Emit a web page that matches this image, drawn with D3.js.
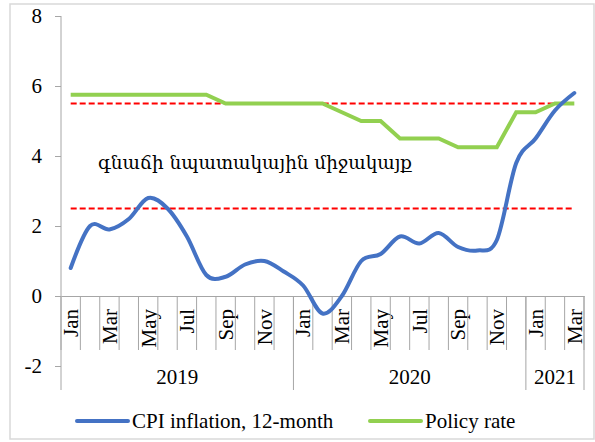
<!DOCTYPE html>
<html>
<head>
<meta charset="utf-8">
<script src="https://cdn.jsdelivr.net/npm/d3@7"></script>
<style>
  body { margin: 0; background: #fff; }
  svg { display: block; }
  text { font-family: "Liberation Serif", serif; fill: #000; }
</style>
</head>
<body>
<svg id="chart" width="595" height="442"></svg>
<script>
// chart data
var months = ["Jan", "Feb", "Mar", "Apr", "May", "Jun", "Jul", "Aug", "Sep", "Oct", "Nov", "Dec"];
var years = ["2019", "2020", "2021"];
var yearCounts = [12, 12, 3];
var cpi = [0.8, 2.0, 1.9, 2.2, 2.8, 2.5, 1.7, 0.6, 0.55, 0.9, 1.0, 0.7,
           0.3, -0.5, 0.0, 1.0, 1.2, 1.7, 1.5, 1.8, 1.4, 1.3, 1.6, 3.8,
           4.5, 5.3, 5.8];
var policy = [5.75, 5.75, 5.75, 5.75, 5.75, 5.75, 5.75, 5.75, 5.5, 5.5, 5.5, 5.5,
              5.5, 5.5, 5.25, 5.0, 5.0, 4.5, 4.5, 4.5, 4.25, 4.25, 4.25, 5.25,
              5.25, 5.5, 5.5];
var targetBand = [2.5, 5.5];
var yTicks = [-2, 0, 2, 4, 6, 8];
var seriesNames = ["CPI inflation, 12-month", "Policy rate"];
var bandLabel = "գնաճի նպատակային միջակայք";

var svg = d3.select("#chart");

// build category list (month + year)
var categories = [];
years.forEach(function(yr, i) {
  for (var k = 0; k < yearCounts[i]; k++) categories.push(months[k] + " " + yr);
});

var plotLeft = 61, plotRight = 584, plotTop = 16, plotBottom = 366;

var x = d3.scaleBand()
  .domain(categories)
  .range([plotLeft, plotRight]);

var y = d3.scaleLinear()
  .domain([-2, 8])
  .range([plotBottom, plotTop]);

var bw = x.bandwidth();
var cx = function(i) { return x(categories[i]) + bw / 2; };
var axisColor = "#a6a6a6";

// outer frame
svg.append("rect")
  .attr("x", 10).attr("y", 4)
  .attr("width", 584).attr("height", 435)
  .attr("fill", "none")
  .attr("stroke", "#d9d9d9")
  .attr("stroke-width", 1.5);

// y axis
var yAxis = d3.axisLeft(y)
  .tickValues(yTicks)
  .tickFormat(String)
  .tickSize(6)
  .tickSizeOuter(0)
  .tickPadding(13);

var gy = svg.append("g")
  .attr("class", "y axis")
  .attr("transform", "translate(" + plotLeft + ",0)")
  .call(yAxis);
gy.select(".domain").remove();
gy.selectAll("line").attr("stroke", axisColor);
gy.selectAll("text")
  .style("font-size", "21px")
  .style("font-family", "Liberation Serif");

svg.append("line")
  .attr("x1", plotLeft).attr("x2", plotLeft)
  .attr("y1", plotTop).attr("y2", 390)
  .attr("stroke", axisColor);

// x axis (month labels, every other one)
var xAxis = d3.axisBottom(x)
  .tickSize(0)
  .tickFormat(function(d, i) { return i % 2 === 0 ? d.split(" ")[0] : ""; });

var gx = svg.append("g")
  .attr("class", "x axis")
  .attr("transform", "translate(0," + y(0) + ")")
  .call(xAxis);
gx.select(".domain").attr("stroke", axisColor);
gx.selectAll("text")
  .attr("transform", "rotate(-90)")
  .attr("x", -13)
  .attr("y", 0)
  .attr("dy", "0.35em")
  .attr("text-anchor", "end")
  .style("font-size", "21px")
  .style("font-family", "Liberation Serif");

// band boundary ticks
var bounds = categories.map(function(c) { return x(c); }).concat([plotRight]);
svg.append("g").selectAll("line")
  .data(bounds)
  .enter()
  .append("line")
  .attr("x1", function(d) { return d; })
  .attr("x2", function(d) { return d; })
  .attr("y1", y(0))
  .attr("y2", 350)
  .attr("stroke", axisColor);

// year groups
var start = 0;
var groups = years.map(function(yr, i) {
  var g = { year: yr, x0: x(categories[start]), x1: x(categories[start + yearCounts[i] - 1]) + bw };
  start += yearCounts[i];
  return g;
});

svg.append("g").selectAll("line")
  .data(groups)
  .enter()
  .append("line")
  .attr("x1", function(d) { return d.x1; })
  .attr("x2", function(d) { return d.x1; })
  .attr("y1", y(0))
  .attr("y2", 390)
  .attr("stroke", axisColor);

svg.append("g").selectAll("text")
  .data(groups)
  .enter()
  .append("text")
  .attr("x", function(d) { return (d.x0 + d.x1) / 2; })
  .attr("y", 384)
  .attr("text-anchor", "middle")
  .style("font-size", "21px")
  .text(function(d) { return d.year; });

// target band lines
svg.append("g").selectAll("line")
  .data(targetBand)
  .enter()
  .append("line")
  .attr("x1", cx(0))
  .attr("x2", cx(categories.length - 1))
  .attr("y1", function(d) { return y(d); })
  .attr("y2", function(d) { return y(d); })
  .attr("stroke", "#ff0000")
  .attr("stroke-width", 2)
  .attr("stroke-dasharray", "6,3");

svg.append("text")
  .attr("x", 98)
  .attr("y", 169)
  .style("font-family", "DejaVu Serif")
  .style("font-size", "18.4px")
  .text(bandLabel);

// series lines
var policyLine = d3.line()
  .x(function(d, i) { return cx(i); })
  .y(function(d) { return y(d); });

var cpiLine = d3.line()
  .x(function(d, i) { return cx(i); })
  .y(function(d) { return y(d); })
  .curve(d3.curveCatmullRom.alpha(0));

svg.append("path")
  .datum(policy)
  .attr("fill", "none")
  .attr("stroke", "#92d050")
  .attr("stroke-width", 4)
  .attr("d", policyLine);

svg.append("path")
  .datum(cpi)
  .attr("fill", "none")
  .attr("stroke", "#4472c4")
  .attr("stroke-width", 4)
  .attr("stroke-linecap", "round")
  .attr("d", cpiLine);

// legend
var legend = [
  { name: seriesNames[0], color: "#4472c4", x: 77 },
  { name: seriesNames[1], color: "#92d050", x: 370 }
];
var lg = svg.append("g").selectAll("g")
  .data(legend)
  .enter()
  .append("g");
lg.append("line")
  .attr("x1", function(d) { return d.x; })
  .attr("x2", function(d) { return d.x + 51; })
  .attr("y1", 421)
  .attr("y2", 421)
  .attr("stroke", function(d) { return d.color; })
  .attr("stroke-width", 4)
  .attr("stroke-linecap", "round");
lg.append("text")
  .attr("x", function(d) { return d.x + 55; })
  .attr("y", 428)
  .style("font-size", "21px")
  .text(function(d) { return d.name; });
</script>
</body>
</html>
